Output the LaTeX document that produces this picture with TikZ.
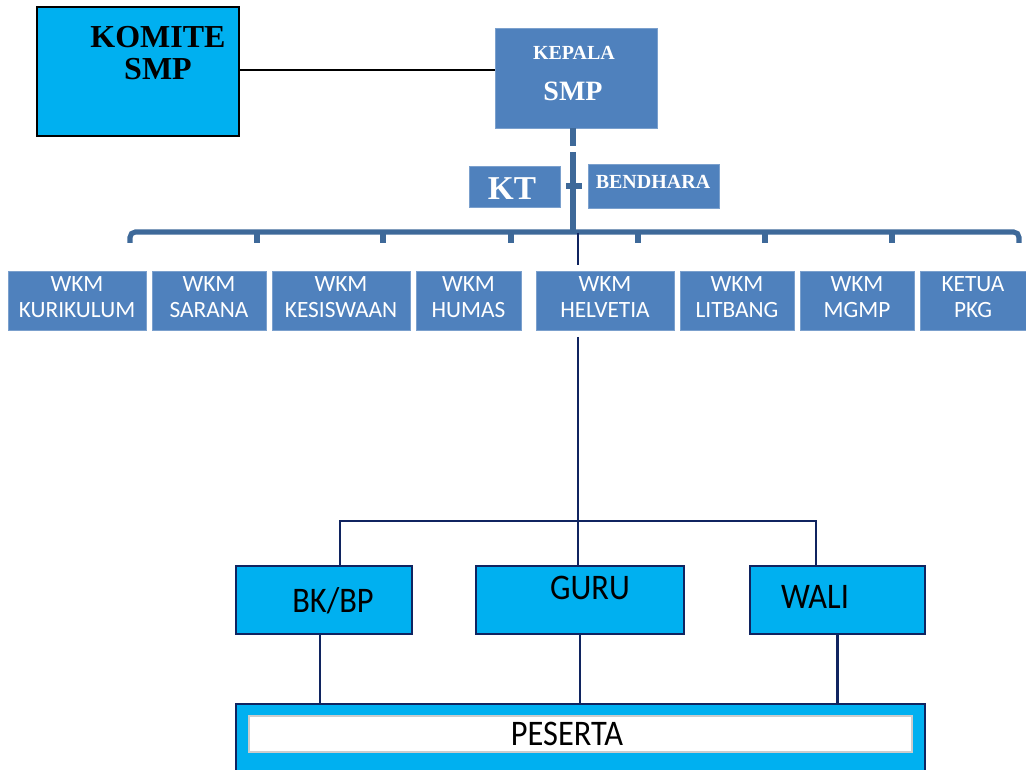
\documentclass[tikz,border=0pt]{standalone}
\usepackage{fontspec}
\setmainfont{Liberation Serif}
\newfontfamily\calfont{Carlito}
\newfontfamily\narfont[FakeStretch=0.9]{Carlito}
\definecolor{kcyan}{RGB}{0,176,240}
\definecolor{kblue}{RGB}{79,129,189}
\definecolor{kbus}{RGB}{62,105,153}
\definecolor{knavy}{RGB}{16,36,96}
\def\px{0.75pt}

\begin{document}
\begin{tikzpicture}[x=0.75pt,y=-0.75pt,
    box/.style={draw=black,line width=1.5pt,fill=kcyan,inner sep=0pt},
    bluebox/.style={fill=kblue,draw=kblue!75!white,line width=0.5pt,inner sep=0pt,text=white},
    wkm/.style={bluebox,minimum height=59*\px,align=center,text depth=5pt,
      font=\calfont\fontsize{17.5}{19.5}\selectfont},
    lbox/.style={draw=knavy,line width=1.8pt,fill=kcyan,inner sep=0pt,minimum height=68*\px},
    txt/.style={inner sep=0pt},
    ltxt/.style={txt,font=\narfont\fontsize{27}{27}\selectfont},
    bus/.style={draw=kbus,line width=3.8pt},
    navyline/.style={draw=knavy,line width=1.8pt}]
  \useasboundingbox (0,0) rectangle (1026,770);

  % top
  \node[box,minimum width=202*\px,minimum height=129*\px] (komite) at (138,71.5) {};
  \node[txt,font=\bfseries\fontsize{24}{24}\selectfont] (komitet1) at (158,37) {KOMITE};
  \node[txt,font=\bfseries\fontsize{24}{24}\selectfont] (komitet2) at (158,69) {SMP};
  \node[bluebox,minimum width=162*\px,minimum height=100*\px] (kepala) at (576,78) {};
  \node[txt,text=white,font=\bfseries\fontsize{15}{15}\selectfont] (kepalat1) at (574,53) {KEPALA};
  \node[txt,text=white,font=\bfseries\fontsize{21}{21}\selectfont] (kepalat2) at (573,91) {SMP};
  \draw[line width=1.2pt] (komite.east |- 0,70) -- (kepala.west |- 0,70);  % komite -- kepala

  \node[bluebox,minimum width=91*\px,minimum height=41*\px] (kt) at (514.5,186.5) {};
  \node[txt,text=white,font=\bfseries\fontsize{25}{25}\selectfont] (ktt) at (512,189) {KT};
  \node[bluebox,minimum width=131*\px,minimum height=44*\px] (bendhara) at (653.5,186) {};
  \node[txt,text=white,font=\bfseries\fontsize{15}{15}\selectfont] (bendharat) at (653,182) {BENDHARA};

  % bus
  \coordinate (busl) at (130,243);
  \coordinate (busr) at (1019,243);
  \coordinate (trunk) at (573,232);
  \draw[bus] (kepala.south -| trunk) -- (573,146);
  \draw[bus] (573,152) -- (trunk);
  \draw[bus] (566,186) -- (582,186);
  \draw[bus,rounded corners=4pt] (busl) |- (trunk) -| (busr);
  \foreach \x in {257,383,511,638,765,892}
    \draw[bus] (\x,232) -- (\x,243);

  % wkm row
  \node[wkm,minimum width=138*\px] (kurikulum) at (77,300.5) {WKM\\KURIKULUM};
  \node[wkm,minimum width=114*\px] (sarana) at (209,300.5) {WKM\\SARANA};
  \node[wkm,minimum width=138*\px] (kesiswaan) at (341,300.5) {WKM\\KESISWAAN};
  \node[wkm,minimum width=105*\px] (humas) at (468.5,300.5) {WKM\\HUMAS};
  \node[wkm,minimum width=138*\px] (helvetia) at (605,300.5) {WKM\\HELVETIA};
  \node[wkm,minimum width=114*\px] (litbang) at (737,300.5) {WKM\\LITBANG};
  \node[wkm,minimum width=114*\px] (mgmp) at (857,300.5) {WKM\\MGMP};
  \node[wkm,minimum width=106*\px] (pkg) at (973,300.5) {KETUA\\PKG};

  % lower part
  \coordinate (split) at (578,521);
  \node[lbox,minimum width=176*\px] (bkbp) at (324,600) {};
  \node[lbox,minimum width=208*\px] (guru) at (580,600) {};
  \node[lbox,minimum width=175*\px] (wali) at (837.5,600) {};
  \node[ltxt] (bkbpt) at (333,601) {BK/BP};
  \node[ltxt] (gurut) at (590,588) {GURU};
  \node[ltxt] (walit) at (815,597) {WALI};

  \node[lbox,minimum width=689*\px,minimum height=80*\px] (peserta) at (580.5,744) {};
  \node[fill=white,draw=black!20,line width=1pt,inner sep=0pt,
    minimum width=663*\px,minimum height=36*\px] (pesertain) at (580.5,734) {};
  \node[ltxt] (pesertat) at (567,734) {PESERTA};

  \draw[navyline] (578,233) -- (578,265);          % bus -- helvetia
  \draw[navyline] (578,337) -- (split);            % helvetia -- split
  \draw[navyline] ([xshift=12pt]bkbp.north) |- (split) -| ([xshift=-16pt]wali.north);
  \draw[navyline] (split) -- (guru.north -| split);
  \draw[navyline] ([xshift=-3pt]bkbp.south) -- ([xshift=-3pt]bkbp.south |- peserta.north);
  \draw[navyline] (guru.south) -- (guru.south |- peserta.north);
  \draw[navyline] (wali.south) -- (wali.south |- peserta.north);
\end{tikzpicture}
\end{document}
